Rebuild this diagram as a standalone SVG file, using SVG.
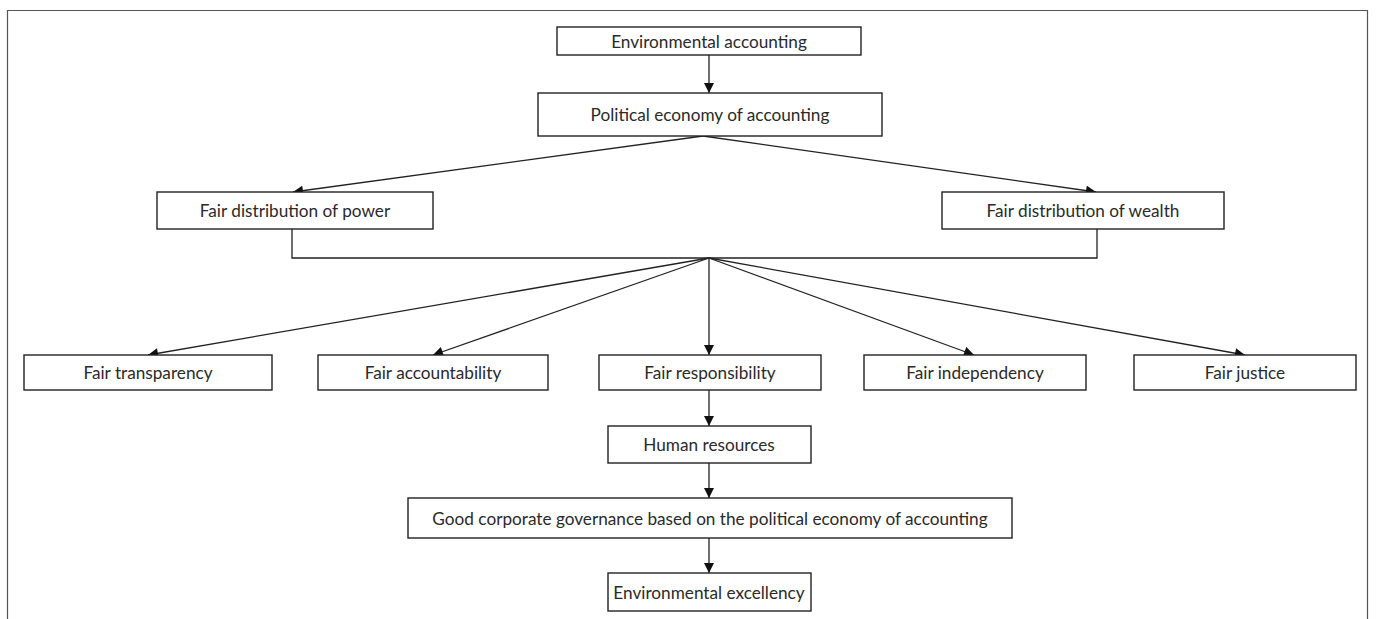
<svg xmlns="http://www.w3.org/2000/svg" width="1376" height="619" viewBox="0 0 1376 619">
<style>
.box{fill:#fff;stroke:#222;stroke-width:1.4}
.lbl{font-family:Lato,"Open Sans","Liberation Sans",sans-serif;font-size:17.2px;fill:#2a2a2a;text-anchor:middle;dominant-baseline:central}
.ln{fill:none;stroke:#222;stroke-width:1.3}
.ar{fill:none;stroke:#222;stroke-width:1.3;marker-end:url(#ah)}
</style>
<defs>
<marker id="ah" viewBox="0 0 10 10" refX="10" refY="5" markerWidth="11" markerHeight="10" markerUnits="userSpaceOnUse" orient="auto">
<path d="M0,0 L10,5 L0,10 Z" fill="#111"/>
</marker>
</defs>
<rect x="0" y="0" width="1376" height="619" fill="#fff"/>
<path d="M7.5,619 V10.5 H1367.5 V619" fill="none" stroke="#555" stroke-width="1.2"/>
<g id="connectors">
<line class="ar" x1="709" y1="55" x2="709" y2="93"/>
<line class="ar" x1="703" y1="136" x2="293" y2="192"/>
<line class="ar" x1="703" y1="136" x2="1096" y2="192"/>
<path class="ln" d="M292,229 V258 H1097 V229"/>
<line class="ar" x1="709" y1="258" x2="148" y2="355"/>
<line class="ar" x1="709" y1="258" x2="433" y2="355"/>
<line class="ar" x1="709" y1="258" x2="709" y2="355"/>
<line class="ar" x1="709" y1="258" x2="974" y2="355"/>
<line class="ar" x1="709" y1="258" x2="1245" y2="355"/>
<line class="ar" x1="709" y1="390" x2="709" y2="426"/>
<line class="ar" x1="709" y1="463" x2="709" y2="498"/>
<line class="ar" x1="709" y1="538" x2="709" y2="573"/>
</g>
<g id="n-env-accounting"><rect class="box" x="557" y="27" width="304" height="28"/><text class="lbl" x="709" y="41">Environmental accounting</text></g>
<g id="n-political"><rect class="box" x="538" y="93" width="344" height="43"/><text class="lbl" x="710" y="114">Political economy of accounting</text></g>
<g id="n-power"><rect class="box" x="157" y="192" width="276" height="37"/><text class="lbl" x="295" y="210">Fair distribution of power</text></g>
<g id="n-wealth"><rect class="box" x="942" y="192" width="282" height="37"/><text class="lbl" x="1083" y="210">Fair distribution of wealth</text></g>
<g id="n-transparency"><rect class="box" x="24" y="355" width="248" height="35"/><text class="lbl" x="148" y="372">Fair transparency</text></g>
<g id="n-accountability"><rect class="box" x="318" y="355" width="230" height="35"/><text class="lbl" x="433" y="372">Fair accountability</text></g>
<g id="n-responsibility"><rect class="box" x="599" y="355" width="222" height="35"/><text class="lbl" x="710" y="372">Fair responsibility</text></g>
<g id="n-independency"><rect class="box" x="864" y="355" width="222" height="35"/><text class="lbl" x="975" y="372">Fair independency</text></g>
<g id="n-justice"><rect class="box" x="1134" y="355" width="222" height="35"/><text class="lbl" x="1245" y="372">Fair justice</text></g>
<g id="n-human"><rect class="box" x="608" y="426" width="203" height="37"/><text class="lbl" x="709" y="444">Human resources</text></g>
<g id="n-governance"><rect class="box" x="408" y="498" width="604" height="40"/><text class="lbl" x="710" y="518">Good corporate governance based on the political economy of accounting</text></g>
<g id="n-excellency"><rect class="box" x="608" y="573" width="203" height="38"/><text class="lbl" x="709" y="592">Environmental excellency</text></g>
</svg>
